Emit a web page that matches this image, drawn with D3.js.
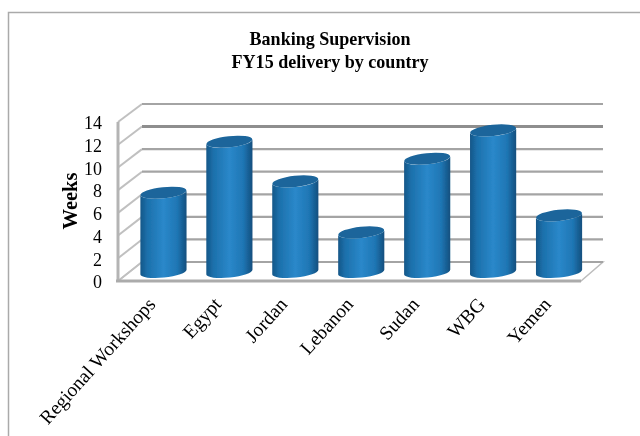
<!DOCTYPE html>
<html><head><meta charset="utf-8">
<script src="https://cdn.jsdelivr.net/npm/d3@7"></script>
<style>html,body{margin:0;padding:0;background:#fff}svg{display:block}text{font-family:"Liberation Serif",serif;fill:#000}</style>
</head><body>
<script>
const categories = ["Regional Workshops","Egypt","Jordan","Lebanon","Sudan","WBG","Yemen"];
const weeks = [7, 11.5, 8, 3.5, 10, 12.5, 5];
const yTicks = [0,2,4,6,8,10,12,14];
const titleLines = ["Banking Supervision","FY15 delivery by country"];
const yLabel = "Weeks";

const svg = d3.select("body").append("svg").attr("width",640).attr("height",436);
const defs = svg.append("defs");
const g = defs.append("linearGradient").attr("id","cyl").attr("x1",0).attr("x2",1).attr("y1",0).attr("y2",0);
[[0,"#155688"],[0.15,"#1c70ab"],[0.5,"#2a88ca"],[0.8,"#1f76b4"],[1,"#134f7e"]].forEach(s=>g.append("stop").attr("offset",s[0]).attr("stop-color",s[1]));
defs.append("filter").attr("id","soft").append("feGaussianBlur").attr("stdDeviation",0.5);
defs.append("filter").attr("id","softText").append("feGaussianBlur").attr("stdDeviation",0.3);

// chart frame
svg.append("path").attr("d","M640,12.5H8.5V436").attr("fill","none").attr("stroke","#aaa").attr("stroke-width",1.5);

// scales: front plane, back wall and the bar centre plane
const dom=[0,14];
const yFront=d3.scaleLinear().domain(dom).range([281,122]);
const yBack=d3.scaleLinear().domain(dom).range([262,104]);
const yBar=d3.scaleLinear().domain(dom).range([272,113.4]);
const x=d3.scaleBand().domain(categories).range([130.5,592]).paddingInner(0.3).paddingOuter(0.15);
const xFL=118,xFR=581,xBL=142,xBR=603;

const walls=svg.append("g").attr("filter","url(#soft)");
// floor
walls.append("path").attr("d",`M${xFL},${yFront(0)}L${xBL},${yBack(0)}H${xBR}L${xFR},${yFront(0)}Z`).attr("fill","#fff").attr("stroke","#bdbdbd").attr("stroke-width",1.5);
// side wall rungs
walls.selectAll("line.side").data(yTicks).join("line").attr("class","side")
  .attr("x1",xFL).attr("y1",d=>yFront(d)).attr("x2",xBL).attr("y2",d=>yBack(d))
  .attr("stroke","#c0c0c0").attr("stroke-width",2);
// back wall gridlines
walls.selectAll("line.back").data(yTicks).join("line").attr("class","back")
  .attr("x1",xBL).attr("x2",xBR).attr("y1",d=>yBack(d)).attr("y2",d=>yBack(d))
  .attr("stroke",d=>d===12?"#8e8e8e":"#a4a4a4").attr("stroke-width",d=>d===12?3:2.2);
// left upright and front floor edge
walls.append("line").attr("x1",xFL).attr("x2",xFL).attr("y1",yFront(14)).attr("y2",yFront(0)).attr("stroke","#b4b4b4").attr("stroke-width",3);
walls.append("line").attr("x1",xFL-2).attr("x2",xFR).attr("y1",yFront(0)).attr("y2",yFront(0)).attr("stroke","#ababab").attr("stroke-width",3);

// cylinders
const tilt=-6, ry=5.6, dy=2.4;
const bars=svg.append("g").selectAll("g").data(categories.map((c,i)=>({c,v:weeks[i]}))).join("g").attr("filter","url(#soft)");
bars.append("path").attr("fill","url(#cyl)").attr("d",d=>{
  const l=x(d.c), r=l+x.bandwidth(), rx=x.bandwidth()/2, t=yBar(d.v), b=yBar(0);
  return `M${l},${t+dy}L${l},${b+dy}A${rx},${ry} ${tilt} 0 0 ${r},${b-dy}L${r},${t-dy}A${rx},${ry} ${tilt} 0 1 ${l},${t+dy}Z`;
});
bars.append("ellipse").attr("fill","#1a659b")
  .attr("cx",d=>x(d.c)+x.bandwidth()/2).attr("cy",d=>yBar(d.v))
  .attr("rx",x.bandwidth()/2).attr("ry",ry)
  .attr("transform",d=>`rotate(${tilt} ${x(d.c)+x.bandwidth()/2} ${yBar(d.v)})`);

const labels=svg.append("g").attr("filter","url(#softText)");

// y axis
const ax=labels.append("g").attr("transform","translate(104,1)")
  .call(d3.axisLeft(yFront).tickValues(yTicks).tickSize(0).tickPadding(2));
ax.select(".domain").remove();
ax.selectAll("text").attr("font-family","Liberation Serif").attr("font-size",18).attr("fill","#000");

// x labels
labels.selectAll("text.cat").data(categories).join("text").attr("class","cat")
  .attr("font-size",19.5).attr("text-anchor","end")
  .attr("transform",d=>`translate(${x(d)+x.bandwidth()/2-7},305) rotate(-48)`)
  .text(d=>d);

// y title
labels.append("text").attr("transform","translate(77,201) rotate(-90)").attr("text-anchor","middle")
  .attr("font-size",20.5).attr("font-weight","bold").text(yLabel);

// chart title
labels.selectAll("text.title").data(titleLines).join("text").attr("class","title")
  .attr("text-anchor","middle").attr("font-size",19).attr("font-weight","bold")
  .attr("transform",(d,i)=>`translate(330,${45+i*23}) scale(0.95,1)`).text(d=>d);
</script>
</body></html>
